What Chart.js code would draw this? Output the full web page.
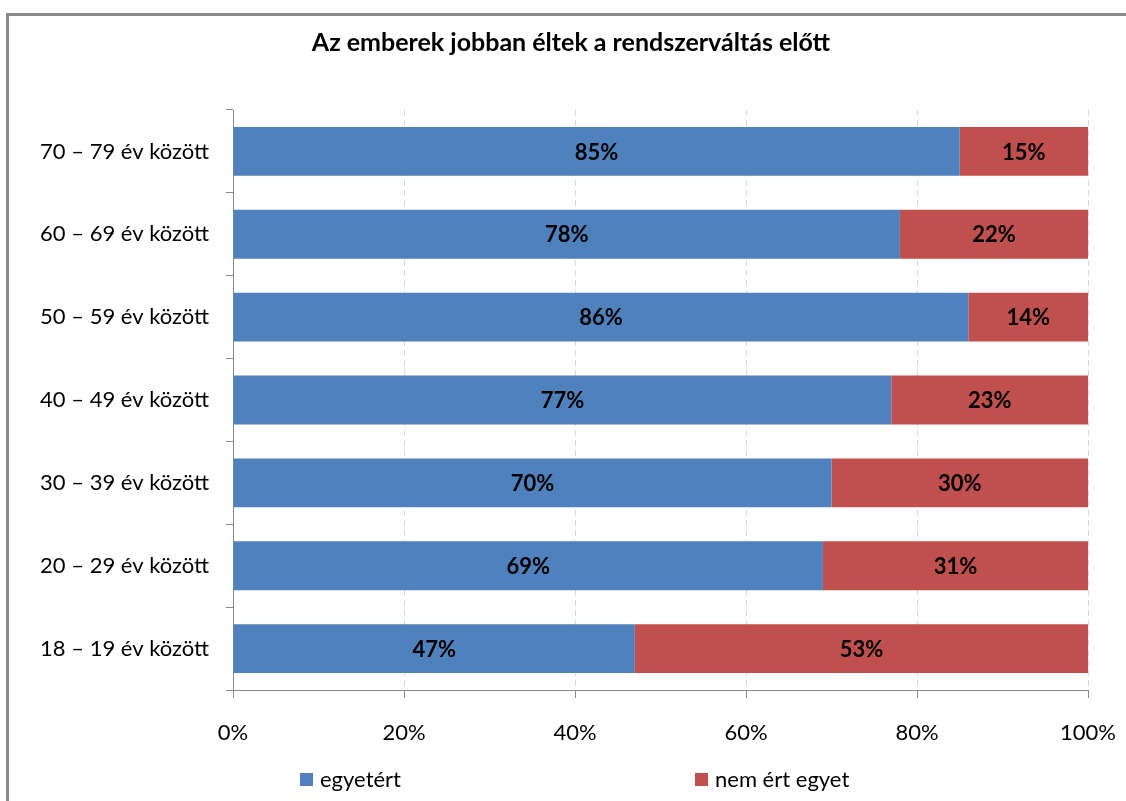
<!DOCTYPE html>
<html>
<head>
<meta charset="utf-8">
<script src="https://cdn.jsdelivr.net/npm/chart.js@4"></script>
<style>
html, body { margin: 0; padding: 0; background: #fff; overflow: hidden; }
#wrap { position: relative; width: 1126px; height: 801px; }
#frame { position: absolute; left: 6px; top: 13px; width: 1200px; height: 900px;
  border-left: 3px solid #8a8a8a; border-top: 3px solid #8a8a8a; pointer-events: none; }
</style>
</head>
<body>
<div id="wrap">
<canvas id="chart" width="1126" height="801"></canvas>
<div id="frame"></div>
</div>
<script>
const chartTitle = 'Az emberek jobban éltek a rendszerváltás előtt';
const categories = ['70 – 79 év között', '60 – 69 év között', '50 – 59 év között', '40 – 49 év között',
  '30 – 39 év között', '20 – 29 év között', '18 – 19 év között'];
const agree = [85, 78, 86, 77, 70, 69, 47];
const disagree = [15, 22, 14, 23, 30, 31, 53];
const seriesNames = ['egyetért', 'nem ért egyet'];
const seriesColors = ['#4F81BD', '#C0504D'];
const xTicks = [0, 20, 40, 60, 80, 100];

const FONT = 'Lato, "Open Sans", sans-serif';

// szegmens feliratok (pl. 85%) a sávok közepén
const barLabels = {
  id: 'barLabels',
  afterDatasetsDraw(chart) {
    const ctx = chart.ctx;
    ctx.save();
    ctx.font = 'bold 22px ' + FONT;
    ctx.fillStyle = '#000';
    ctx.textAlign = 'center';
    ctx.textBaseline = 'middle';
    chart.data.datasets.forEach((ds, i) => {
      chart.getDatasetMeta(i).data.forEach((bar, j) => {
        const left = Math.min(bar.x, bar.base);
        const right = Math.max(bar.x, bar.base);
        ctx.fillText(ds.data[j] + '%', (left + right) / 2, bar.y + 1);
      });
    });
    ctx.restore();
  }
};

// cím és jelmagyarázat: az eredetiben a keret közepén ill. szélesen elosztva
const titleAndLegend = {
  id: 'titleAndLegend',
  afterDraw(chart) {
    const ctx = chart.ctx;
    ctx.save();
    ctx.fillStyle = '#000';
    ctx.font = 'bold 25px ' + FONT;
    ctx.textAlign = 'center';
    ctx.textBaseline = 'middle';
    ctx.fillText(chartTitle, 571, 43);

    const xs = [300, 695];
    ctx.font = '22px ' + FONT;
    ctx.textAlign = 'left';
    seriesNames.forEach((name, i) => {
      ctx.fillStyle = seriesColors[i];
      ctx.fillRect(xs[i], 773, 13, 13);
      ctx.fillStyle = '#000';
      ctx.fillText(name, xs[i] + 20, 780);
    });
    ctx.restore();
  }
};

const whiteBg = {
  id: 'whiteBg',
  beforeDraw(chart) {
    const ctx = chart.ctx;
    ctx.save();
    ctx.fillStyle = '#fff';
    ctx.fillRect(0, 0, chart.width, chart.height);
    ctx.restore();
  }
};

new Chart(document.getElementById('chart').getContext('2d'), {
  type: 'bar',
  data: {
    labels: categories,
    datasets: [
      { label: seriesNames[0], data: agree, backgroundColor: seriesColors[0] },
      { label: seriesNames[1], data: disagree, backgroundColor: seriesColors[1] }
    ]
  },
  options: {
    indexAxis: 'y',
    responsive: false,
    animation: false,
    layout: { padding: { left: 20, right: 38, top: 110, bottom: 0 } },
    datasets: { bar: { categoryPercentage: 1, barPercentage: 0.59 } },
    scales: {
      x: {
        stacked: true,
        min: 0,
        max: 100,
        afterBuildTicks(axis) { axis.ticks = xTicks.map(v => ({ value: v })); },
        afterFit(axis) {
          axis.height = 111;
          axis.paddingLeft = 0;
          axis.paddingRight = 0;
        },
        grid: { color: '#d9d9d9', tickColor: '#8a8a8a', tickLength: 8, tickBorderDash: [] },
        border: { color: '#8a8a8a', width: 1, dash: [6, 4] },
        ticks: {
          color: '#000',
          padding: 22,
          font: { family: FONT, size: 22 },
          callback: v => v + '%'
        }
      },
      y: {
        stacked: true,
        afterFit(axis) {
          axis.width = 213;
          axis.paddingTop = 0;
          axis.paddingBottom = 0;
        },
        grid: { drawOnChartArea: false, offset: true, color: '#8a8a8a', tickLength: 7 },
        border: { color: '#8a8a8a', width: 1 },
        ticks: {
          color: '#000',
          padding: 17,
          font: { family: FONT, size: 22 }
        }
      }
    },
    plugins: {
      legend: { display: false },
      tooltip: { enabled: false },
      title: { display: false }
    }
  },
  plugins: [whiteBg, barLabels, titleAndLegend]
});
</script>
</body>
</html>
